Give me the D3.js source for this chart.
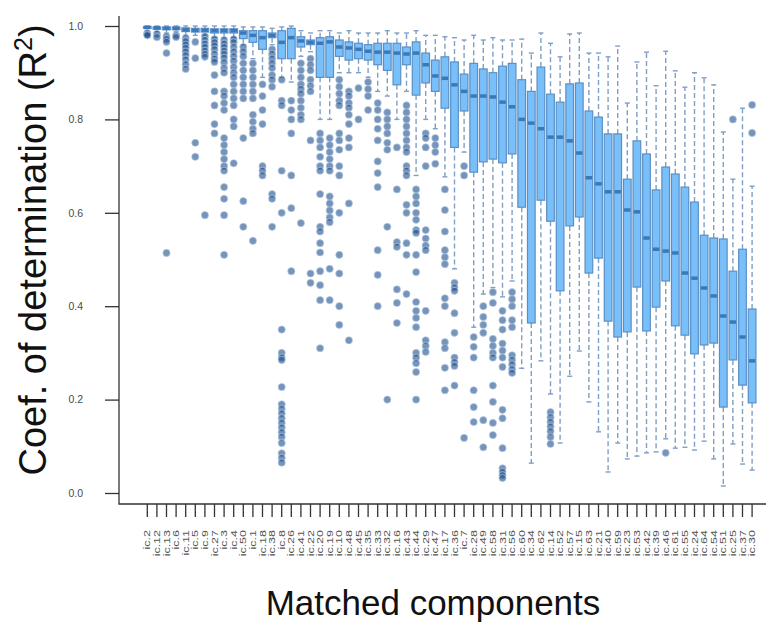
<!DOCTYPE html>
<html>
<head>
<meta charset="utf-8">
<script src="https://cdn.jsdelivr.net/npm/d3@7"></script>
<style>
  body { margin: 0; background: #fff; }
</style>
</head>
<body>
<script>
//component names along the x axis, in plotted order
var components = ["ic.2","ic.12","ic.13","ic.6","ic.11","ic.5","ic.9","ic.27","ic.3","ic.4",
    "ic.50","ic.1","ic.18","ic.38","ic.8","ic.26","ic.41","ic.22","ic.20","ic.19",
    "ic.10","ic.48","ic.45","ic.35","ic.33","ic.32","ic.16","ic.43","ic.44","ic.29",
    "ic.47","ic.17","ic.36","ic.7","ic.28","ic.49","ic.58","ic.31","ic.56","ic.60",
    "ic.34","ic.62","ic.14","ic.52","ic.57","ic.15","ic.63","ic.21","ic.40","ic.59",
    "ic.23","ic.53","ic.42","ic.39","ic.46","ic.61","ic.55","ic.24","ic.64","ic.54",
    "ic.51","ic.25","ic.37","ic.30"];

//box statistics
var whiskerLow = [0.99,0.988,0.985,0.988,0.98,0.98,0.98,0.975,0.975,0.975,
    0.96,0.93,0.89,0.96,0.89,0.88,0.935,0.945,0.80,0.80,
    0.90,0.90,0.90,0.89,0.86,0.85,0.80,0.86,0.68,0.80,
    0.78,0.677,0.48,0.73,0.355,0.426,0.44,0.42,0.454,0.267,
    0.064,0.283,0.212,0.107,0.25,0.304,0.195,0.131,0.045,0.107,
    0.073,0.079,0.086,0.088,0.116,0.096,0.098,0.092,0.111,0.073,
    0.015,0.105,0.062,0.049];
var q1 = [0.995,0.993,0.992,0.992,0.988,0.987,0.987,0.985,0.985,0.985,
    0.973,0.965,0.95,0.975,0.93,0.93,0.955,0.96,0.89,0.89,
    0.935,0.927,0.93,0.927,0.917,0.905,0.874,0.917,0.852,0.878,
    0.86,0.824,0.74,0.818,0.687,0.709,0.715,0.707,0.726,0.612,
    0.364,0.627,0.582,0.433,0.572,0.591,0.471,0.503,0.368,0.334,
    0.345,0.441,0.347,0.398,0.454,0.358,0.338,0.298,0.317,0.321,
    0.184,0.285,0.231,0.193];
var median = [0.997,0.996,0.995,0.995,0.992,0.991,0.991,0.99,0.99,0.99,
    0.985,0.98,0.975,0.98,0.965,0.975,0.968,0.965,0.963,0.966,
    0.955,0.953,0.95,0.946,0.944,0.944,0.942,0.94,0.942,0.917,
    0.893,0.888,0.874,0.86,0.85,0.85,0.848,0.837,0.827,0.80,
    0.792,0.78,0.762,0.762,0.754,0.728,0.675,0.662,0.645,0.645,
    0.606,0.602,0.546,0.522,0.518,0.514,0.471,0.46,0.439,0.422,
    0.379,0.366,0.334,0.283];
var q3 = [0.999,0.998,0.998,0.998,0.996,0.995,0.995,0.994,0.994,0.994,
    0.99,0.99,0.99,0.985,0.99,0.995,0.977,0.97,0.975,0.977,
    0.97,0.966,0.963,0.96,0.963,0.963,0.963,0.955,0.966,0.942,
    0.927,0.934,0.923,0.897,0.92,0.908,0.90,0.914,0.92,0.885,
    0.86,0.912,0.854,0.837,0.876,0.878,0.818,0.805,0.769,0.769,
    0.672,0.754,0.726,0.649,0.698,0.683,0.655,0.623,0.552,0.546,
    0.544,0.475,0.522,0.394];
var whiskerHigh = [1,1,1,1,1,1,1,1,1,1,
    0.998,0.998,0.998,0.995,0.998,1,0.99,0.985,0.99,0.99,
    0.985,0.99,0.985,0.985,0.985,0.99,0.985,0.985,0.99,0.98,
    0.98,0.977,0.975,0.97,0.98,0.97,0.975,0.97,0.97,0.972,
    0.942,0.985,0.963,0.934,0.983,0.985,0.942,0.942,0.934,0.957,
    0.835,0.923,0.944,0.872,0.946,0.904,0.869,0.90,0.889,0.874,
    0.773,0.672,0.824,0.657];

//outlying values per component
var outliers = [
    [0.985,0.982,0.98],
    [0.983,0.976],
    [0.978,0.972,0.966,0.942,0.514],
    [0.98,0.976],
    [0.974,0.967,0.96,0.953,0.945,0.937,0.928,0.918,0.908],
    [0.966,0.931,0.75,0.72],
    [0.978,0.97,0.962,0.955,0.947,0.94,0.934,0.595],
    [0.972,0.965,0.958,0.95,0.94,0.93,0.923,0.895,0.86,0.83,0.79,0.77],
    [0.97,0.962,0.955,0.947,0.94,0.932,0.922,0.91,0.90,0.86,0.85,0.835,0.82,0.76,0.745,0.73,0.715,0.70,0.69,0.655,0.63,0.595,0.51],
    [0.972,0.965,0.955,0.945,0.935,0.925,0.912,0.90,0.89,0.875,0.86,0.845,0.83,0.80,0.785,0.706],
    [0.955,0.945,0.935,0.92,0.905,0.89,0.875,0.86,0.845,0.76,0.625,0.57],
    [0.92,0.905,0.89,0.875,0.86,0.845,0.81,0.795,0.78,0.77,0.54],
    [0.875,0.85,0.82,0.79,0.70,0.69,0.68],
    [0.95,0.94,0.93,0.92,0.91,0.895,0.885,0.87,0.64,0.63,0.57],
    [0.885,0.84,0.83,0.69,0.60,0.35,0.30,0.29,0.285,0.227,0.19,0.18,0.17,0.16,0.15,0.14,0.13,0.12,0.107,0.085,0.075,0.065],
    [0.84,0.82,0.80,0.77,0.68,0.61,0.475],
    [0.92,0.905,0.89,0.875,0.865,0.855,0.84,0.825,0.81,0.80,0.578],
    [0.93,0.917,0.905,0.885,0.872,0.86,0.755,0.47,0.45],
    [0.77,0.755,0.74,0.72,0.70,0.69,0.64,0.57,0.56,0.535,0.515,0.475,0.445,0.413,0.31],
    [0.76,0.745,0.73,0.715,0.70,0.69,0.635,0.62,0.605,0.59,0.58,0.48,0.413],
    [0.885,0.87,0.855,0.84,0.83,0.77,0.755,0.735,0.70,0.68,0.60,0.51,0.47,0.40,0.36],
    [0.86,0.85,0.835,0.825,0.81,0.79,0.76,0.74,0.62,0.327],
    [0.867,0.80],
    [0.88,0.865,0.85,0.82],
    [0.835,0.82,0.80,0.78,0.755,0.71,0.685,0.655,0.52,0.467,0.40],
    [0.815,0.80,0.785,0.77,0.75,0.735,0.57,0.20],
    [0.74,0.65,0.537,0.527,0.436,0.407,0.364],
    [0.83,0.815,0.80,0.785,0.77,0.755,0.74,0.73,0.70,0.69,0.68,0.617,0.60,0.535,0.51,0.426],
    [0.65,0.635,0.62,0.60,0.585,0.563,0.557,0.51,0.473,0.409,0.39,0.375,0.355,0.30,0.29,0.278,0.259,0.20],
    [0.77,0.76,0.74,0.70,0.563,0.545,0.53,0.52,0.39,0.327,0.315,0.302],
    [0.76,0.745,0.73,0.705],
    [0.65,0.606,0.56,0.52,0.505,0.49,0.417,0.40,0.323,0.31,0.268,0.22],
    [0.45,0.44,0.433,0.385,0.343,0.29,0.28,0.272,0.23],
    [0.70,0.68,0.118],
    [0.334,0.313,0.29,0.22,0.184,0.152],
    [0.40,0.377,0.36,0.343,0.156,0.098],
    [0.43,0.407,0.33,0.315,0.30,0.29,0.23,0.195,0.15,0.124],
    [0.39,0.37,0.35,0.32,0.305,0.29,0.27,0.178,0.16,0.096,0.053,0.045,0.038,0.032],
    [0.43,0.415,0.40,0.37,0.355,0.295,0.285,0.275,0.265,0.257],
    [],[],[],
    [0.173,0.162,0.152,0.142,0.132,0.12,0.105],
    [],[],[],[],[],[],[],
    [],[],[],[],
    [0.086],
    [],[],[],[],[],[],
    [0.80],
    [],
    [0.831,0.771]
];

var yTicks = [0, 0.2, 0.4, 0.6, 0.8, 1.0];

var width = 777,
    height = 625;

var svg = d3.select("body")
    .append("svg")
    .attr("width", width)
    .attr("height", height)
    .style("font-family", "'Liberation Sans', Arial, sans-serif");

var x = d3.scaleBand()
    .domain(components)
    .range([142.5, 756.9])
    .paddingInner(0.2)
    .paddingOuter(0.1);

var y = d3.scaleLinear()
    .domain([0, 1])
    .range([493, 26]);

var bw = x.bandwidth();

var boxes = components.map(function(c, i){
    return {name: c, lo: whiskerLow[i], q1: q1[i], med: median[i],
            q3: q3[i], hi: whiskerHigh[i], out: outliers[i]};
});

function cx(d){ return x(d.name) + bw / 2; }

var whiskerColor = "#7f9fc4";

//dashed whiskers
var wg = svg.append("g")
    .attr("stroke", whiskerColor)
    .attr("stroke-width", 1.4);

wg.selectAll(".upper")
    .data(boxes)
    .enter()
    .append("line")
    .attr("x1", cx).attr("x2", cx)
    .attr("y1", function(d){ return y(d.q3); })
    .attr("y2", function(d){ return y(d.hi); })
    .attr("stroke-dasharray", "5,3");

wg.selectAll(".lower")
    .data(boxes)
    .enter()
    .append("line")
    .attr("x1", cx).attr("x2", cx)
    .attr("y1", function(d){ return y(d.q1); })
    .attr("y2", function(d){ return y(d.lo); })
    .attr("stroke-dasharray", "5,3");

//staples
wg.selectAll(".stapleHi")
    .data(boxes)
    .enter()
    .append("line")
    .attr("x1", function(d){ return cx(d) - 2.5; })
    .attr("x2", function(d){ return cx(d) + 2.5; })
    .attr("y1", function(d){ return y(d.hi); })
    .attr("y2", function(d){ return y(d.hi); });

wg.selectAll(".stapleLo")
    .data(boxes)
    .enter()
    .append("line")
    .attr("x1", function(d){ return cx(d) - 2.5; })
    .attr("x2", function(d){ return cx(d) + 2.5; })
    .attr("y1", function(d){ return y(d.lo); })
    .attr("y2", function(d){ return y(d.lo); });

//boxes
svg.append("g")
    .selectAll("rect")
    .data(boxes)
    .enter()
    .append("rect")
    .attr("x", function(d){ return x(d.name); })
    .attr("y", function(d){ return y(d.q3); })
    .attr("width", bw)
    .attr("height", function(d){ return Math.max(1, y(d.q1) - y(d.q3)); })
    .attr("fill", "#79bff9")
    .attr("stroke", "#5b8fc5")
    .attr("stroke-width", 1.2);

//medians
svg.append("g")
    .selectAll("line")
    .data(boxes)
    .enter()
    .append("line")
    .attr("x1", function(d){ return x(d.name) + 0.6; })
    .attr("x2", function(d){ return x(d.name) + bw - 0.6; })
    .attr("y1", function(d){ return y(d.med); })
    .attr("y2", function(d){ return y(d.med); })
    .attr("stroke", "#3c78b8")
    .attr("stroke-width", 3.5);

//outlying points
var pts = [];
boxes.forEach(function(d){
    d.out.forEach(function(v){ pts.push({name: d.name, v: v}); });
});

svg.append("g")
    .selectAll("circle")
    .data(pts)
    .enter()
    .append("circle")
    .attr("cx", function(d){ return x(d.name) + bw / 2; })
    .attr("cy", function(d){ return y(d.v); })
    .attr("r", 3.6)
    .attr("fill", "#1a4c8a")
    .attr("fill-opacity", 0.6)
    .attr("stroke", "#b7cde6")
    .attr("stroke-opacity", 0.8)
    .attr("stroke-width", 0.8);

//frame (left and bottom)
svg.append("path")
    .attr("d", "M119,16V504H766")
    .attr("fill", "none")
    .attr("stroke", "#333")
    .attr("stroke-width", 1.3);

//y axis
var yAxis = d3.axisLeft(y)
    .tickValues(yTicks)
    .tickSize(14)
    .tickPadding(22)
    .tickFormat(d3.format(".1f"));

var gy = svg.append("g")
    .attr("transform", "translate(119,0)")
    .call(yAxis);
gy.select(".domain").remove();
gy.selectAll("line").attr("stroke", "#333").attr("stroke-width", 1.3);
gy.selectAll("text")
    .attr("font-size", "10.5px")
    .attr("font-family", "'Liberation Sans', Arial, sans-serif")
    .attr("fill", "#4a4a4a");

//x axis
var xAxis = d3.axisBottom(x)
    .tickSize(13)
    .tickSizeOuter(0);

var gx = svg.append("g")
    .attr("transform", "translate(0,504)")
    .call(xAxis);
gx.select(".domain").remove();
gx.selectAll("line").attr("stroke", "#333").attr("stroke-width", 1.3);
gx.selectAll("text")
    .attr("x", -26)
    .attr("y", 0)
    .attr("dy", "0.35em")
    .attr("text-anchor", "end")
    .attr("transform", "rotate(-90) scale(1,0.72)")
    .attr("font-size", "12.5px")
    .attr("font-family", "'Liberation Sans', Arial, sans-serif")
    .attr("fill", "#555");

//axis titles
svg.append("text")
    .attr("x", 433)
    .attr("y", 615)
    .attr("text-anchor", "middle")
    .attr("font-size", "35px")
    .attr("fill", "#111")
    .text("Matched components");

var yt = svg.append("text")
    .attr("transform", "translate(46,250) rotate(-90)")
    .attr("text-anchor", "middle")
    .attr("font-size", "38px")
    .attr("fill", "#111");
yt.append("tspan").text("Coef. of determination (R");
yt.append("tspan").attr("font-size", "25px").attr("dy", "-14").text("2");
yt.append("tspan").attr("dy", "14").text(")");
</script>
</body>
</html>
